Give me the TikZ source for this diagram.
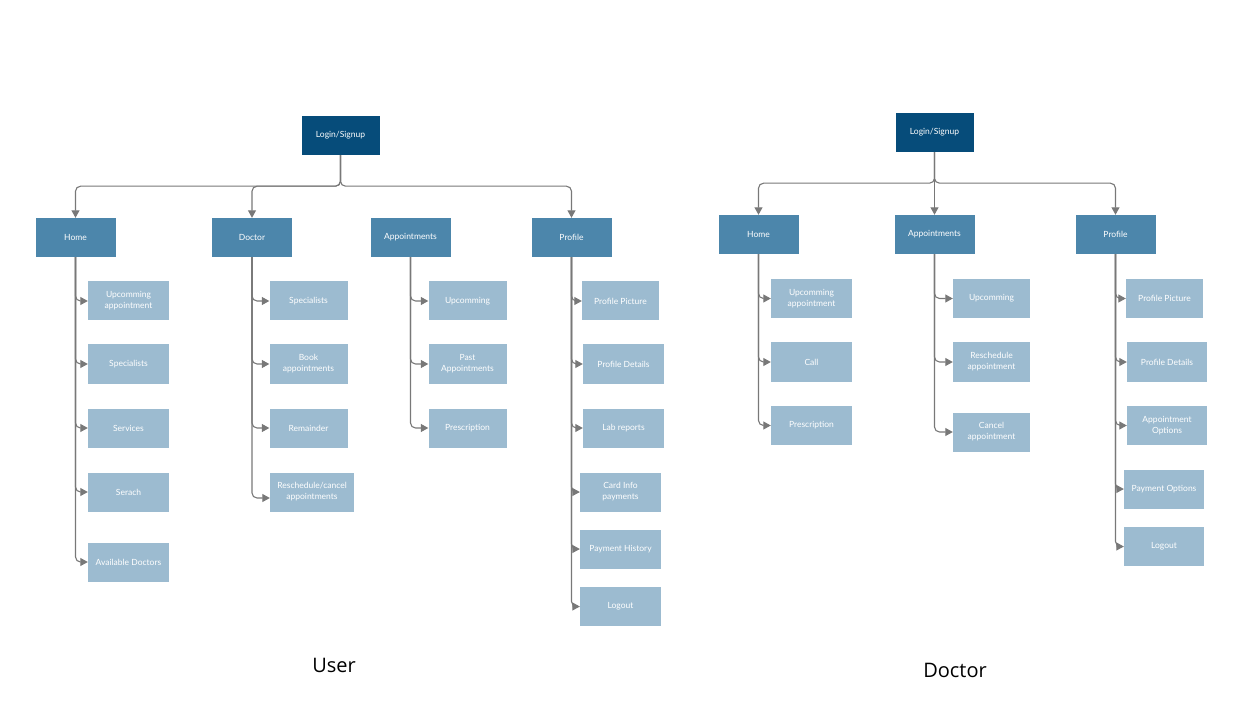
\documentclass[tikz,border=0pt]{standalone}
\usepackage{fontspec}
\setmainfont{Lato}
\newfontfamily\captionfont{Open Sans}
\usetikzlibrary{arrows.meta,positioning}
\definecolor{loginblue}{HTML}{064C7A}
\definecolor{menublue}{HTML}{4C86AB}
\definecolor{leafblue}{HTML}{9CBBD0}
\definecolor{wiregray}{HTML}{787878}
\tikzstyle{loginbox}=[fill=loginblue,text=white,minimum width=78pt,minimum height=39pt,inner sep=2pt,align=center,font=\fontsize{8.5}{11}\selectfont]
\tikzstyle{menubox}=[loginbox,fill=menublue,minimum width=80pt]
\tikzstyle{leafbox}=[loginbox,fill=leafblue]
\tikzstyle{wire}=[wiregray,line width=1.1pt,rounded corners=5pt,-{Triangle[length=7.5pt,width=8pt]}]
\tikzstyle{bigcaption}=[font=\captionfont\fontsize{20}{24}\selectfont]
\newcommand{\leaf}[5][78]{% Syntax: [width] {name} {center} {text} {parent}
	\node[leafbox,minimum width=#1pt] (#2) at (#3) {#4};
	\draw[wire] (#5.south) |- (#2.west);
}

\begin{document}
\begin{tikzpicture}[x=1pt,y=-1pt]
\useasboundingbox (0,0) rectangle (1256,727);

% user side
\node[loginbox] (ulogin) at (340.5,135.5) {Login/Signup};
\node[menubox] (uhome) at (75.5,237.5) {Home};
\node[menubox] (udoctor) at (252,237.5) {Doctor};
\node[menubox] (uappt) at (410.5,237.5) {Appointments};
\node[menubox] (uprofile) at (571.5,237.5) {Profile};
\draw[wire] (ulogin.south) -- ++(0,31) -| (uhome.north);
\draw[wire] (ulogin.south) -- ++(0,31) -| (udoctor.north);
\draw[wire] (ulogin.south) -- ++(0,31) -| (uprofile.north);

\leaf[81]{uhupcoming}{128.5,301}{Upcomming\\appointment}{uhome}
\leaf[81]{uhspecial}{128.5,364}{Specialists}{uhome}
\leaf[81]{uhservice}{128.5,428}{Services}{uhome}
\leaf[81]{uhsearch}{128.5,492}{Serach}{uhome}
\leaf[81]{uhavail}{128.5,562}{Available Doctors}{uhome}

\leaf{udspecial}{308.5,301}{Specialists}{udoctor}
\leaf{udbook}{308.5,364}{Book\\appointments}{udoctor}
\leaf{udremind}{308.5,428}{Remainder}{udoctor}
\node[leafbox,minimum width=84pt] (udresched) at (312,492) {Reschedule/cancel\\appointments};
\coordinate (udreschedin) at ([yshift=-6pt]udresched.west);
\draw[wire] (udoctor.south) |- (udreschedin);

\leaf{uaupcoming}{467.5,301}{Upcomming}{uappt}
\leaf{uapast}{467.5,364}{Past\\Appointments}{uappt}
\leaf{uapresc}{467.5,428}{Prescription}{uappt}

\leaf[77]{uppicture}{620.5,301}{Profile Picture}{uprofile}
\leaf[81]{updetails}{623.5,364}{Profile Details}{uprofile}
\leaf[81]{uplab}{623.5,428}{Lab reports}{uprofile}
\leaf[81]{upcard}{620.5,492}{Card Info\\payments}{uprofile}
\leaf[81]{uphistory}{620.5,549}{Payment History}{uprofile}
\leaf[81]{uplogout}{620.5,606.5}{Logout}{uprofile}

% doctor side
\node[loginbox] (dlogin) at (934.5,132.5) {Login/Signup};
\node[menubox] (dhome) at (758.5,234.5) {Home};
\node[menubox] (dappt) at (934.5,234.5) {Appointments};
\node[menubox] (dprofile) at (1115.5,234.5) {Profile};
\draw[wire] (dlogin.south) -- ++(0,31) -| (dhome.north);
\draw[wire] (dlogin.south) -- (dappt.north);
\draw[wire] (dlogin.south) -- ++(0,31) -| (dprofile.north);

\leaf[81]{dhupcoming}{811.5,298.5}{Upcomming\\appointment}{dhome}
\leaf[81]{dhcall}{811.5,362}{Call}{dhome}
\leaf[81]{dhpresc}{811.5,425.5}{Prescription}{dhome}

\leaf[77]{daupcoming}{991.5,298.5}{Upcomming}{dappt}
\leaf[77]{daresched}{991.5,362}{Reschedule\\appointment}{dappt}
\leaf[77]{dacancel}{991.5,432}{Cancel\\appointment}{dappt}

\leaf[77]{dppicture}{1164.5,298.5}{Profile Picture}{dprofile}
\leaf[80]{dpdetails}{1167,362}{Profile Details}{dprofile}
\leaf[80]{dpappt}{1167,425.5}{Appointment\\Options}{dprofile}
\leaf[80]{dppay}{1164,489}{Payment Options}{dprofile}
\leaf[80]{dplogout}{1164,546.5}{Logout}{dprofile}

\node[bigcaption] (usercap) at (334,665) {User};
\node[bigcaption] (doccap) at (955,670) {Doctor};
\end{tikzpicture}
\end{document}
